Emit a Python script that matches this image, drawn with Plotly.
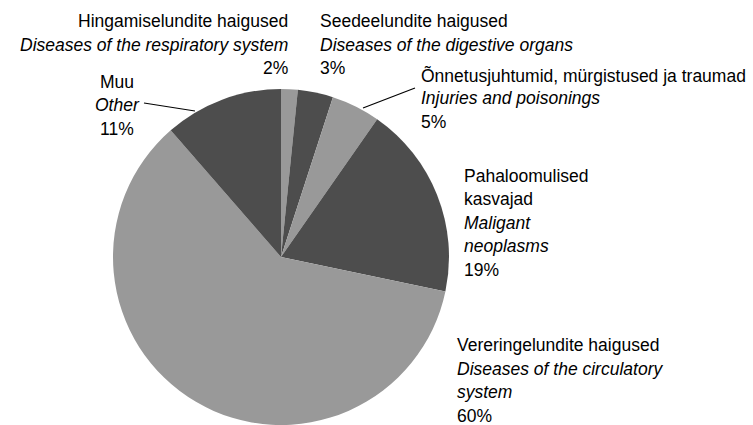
import plotly.graph_objects as go

# ---- data ----
labels_et = ["Hingamiselundite haigused", "Seedeelundite haigused",
             "Õnnetusjuhtumid, mürgistused ja traumad", "Pahaloomulised\nkasvajad",
             "Vereringelundite haigused", "Muu"]
labels_en = ["Diseases of the respiratory system", "Diseases of the digestive organs",
             "Injuries and poisonings", "Maligant\nneoplasms",
             "Diseases of the circulatory\nsystem", "Other"]
values = [1.6, 3.4, 4.7, 18.6, 60.3, 11.4]

# ---- style / layout ----
W, H = 753, 425
colors = ["#999999", "#4d4d4d", "#999999", "#4d4d4d", "#999999", "#4d4d4d"]
FONT = "Liberation Sans, Arial, sans-serif"
FS = 17.5
LS = 23.5
# (x px, xanchor, first line center y px)
label_pos = [(290, "right", 21.5), (318, "left", 21.5), (419, "left", 75),
             (462, "left", 175.5), (455, "left", 345), (117, "center", 81.5)]
leaders = [None, None, ((363, 108), (415, 88)), None, None, ((195, 111), (144, 103))]

cx, cy, r = 281, 257, 168

fig = go.Figure(go.Pie(
    labels=[a + " / " + b for a, b in zip(labels_et, labels_en)],
    values=values, sort=False, direction="clockwise", rotation=0,
    marker=dict(colors=colors, line=dict(width=0)),
    textinfo="none", hoverinfo="label+percent", showlegend=False,
    domain=dict(x=[(cx - r) / W, (cx + r) / W], y=[(H - cy - r) / H, (H - cy + r) / H]),
))

annotations = []
for i in range(len(values)):
    lines = [(t, False) for t in labels_et[i].split("\n")]
    lines += [(t, True) for t in labels_en[i].split("\n")]
    lines.append((f"{round(values[i])}%", False))
    x, xa, y0 = label_pos[i]
    for k, (t, it) in enumerate(lines):
        annotations.append(dict(
            x=x / W, y=1 - (y0 + k * LS) / H, xref="paper", yref="paper",
            text=f"<i>{t}</i>" if it else t, showarrow=False,
            xanchor=xa, yanchor="middle",
            font=dict(family=FONT, size=FS, color="#000000"),
        ))

shapes = []
for ld in leaders:
    if ld:
        (x0, y0), (x1, y1) = ld
        shapes.append(dict(type="line", xref="paper", yref="paper",
                           x0=x0 / W, y0=1 - y0 / H, x1=x1 / W, y1=1 - y1 / H,
                           line=dict(color="#000000", width=1.2)))

fig.update_layout(
    width=W, height=H, margin=dict(l=0, r=0, t=0, b=0),
    paper_bgcolor="white", plot_bgcolor="white",
    annotations=annotations, shapes=shapes,
)

fig.write_html("out.html", config={"displayModeBar": False},
               post_script="document.body.style.margin='0';document.body.style.overflow='hidden';")
